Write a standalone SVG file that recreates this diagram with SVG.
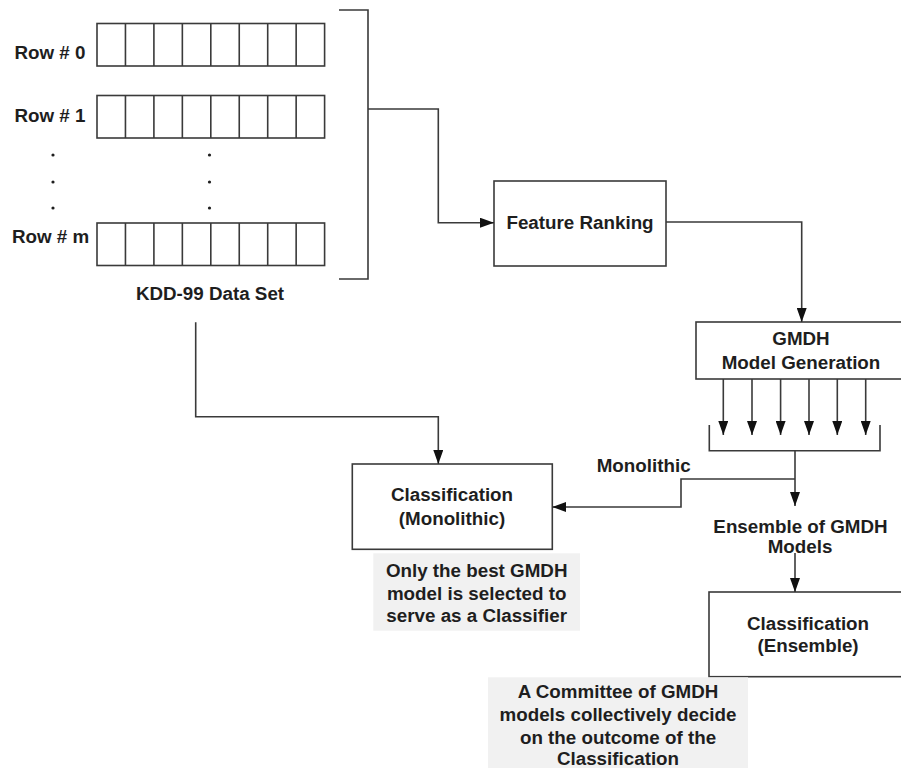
<svg xmlns="http://www.w3.org/2000/svg" width="901" height="768" viewBox="0 0 901 768">
<style>
.ln{fill:none;stroke:#3a3a3a;stroke-width:1.6}
.bx{fill:#ffffff;stroke:#3a3a3a;stroke-width:1.6}
.note{fill:#f1f1f1;stroke:none}
text{font-family:"Liberation Sans",Arial,sans-serif;font-weight:bold;font-size:18.8px;fill:#1e1e1e}
.c{text-anchor:middle}
.dot{fill:#1e1e1e}
</style>
<defs>
<marker id="ah" markerUnits="userSpaceOnUse" markerWidth="14" markerHeight="10" refX="14" refY="5" orient="auto">
<path d="M0,0 L14,5 L0,10 z" fill="#111"/>
</marker>
<g id="rowcells">
<rect class="bx" x="0" y="0" width="227.6" height="42.5"/>
<path class="ln" d="M28.45,0V42.5M56.9,0V42.5M85.35,0V42.5M113.8,0V42.5M142.25,0V42.5M170.7,0V42.5M199.15,0V42.5"/>
</g>
</defs>
<rect width="901" height="768" fill="#ffffff"/>

<g id="dataset">
<use href="#rowcells" x="97" y="23.5"/>
<use href="#rowcells" x="97" y="95.5"/>
<use href="#rowcells" x="97" y="223"/>
<text class="c" x="50" y="58.5">Row # 0</text>
<text class="c" x="50" y="122">Row # 1</text>
<text class="c" x="50.5" y="243">Row # m</text>
<circle class="dot" cx="53" cy="155" r="1.6"/>
<circle class="dot" cx="53" cy="182" r="1.6"/>
<circle class="dot" cx="53" cy="208" r="1.6"/>
<circle class="dot" cx="209.5" cy="155" r="1.6"/>
<circle class="dot" cx="209.5" cy="182" r="1.6"/>
<circle class="dot" cx="209.5" cy="208" r="1.6"/>
<path class="ln" d="M339,10H368V279H339"/>
<text class="c" x="210" y="299.5">KDD-99 Data Set</text>
</g>

<g id="feature-ranking">
<rect class="bx" x="494" y="181" width="172" height="85"/>
<text class="c" x="580" y="228.5">Feature Ranking</text>
</g>

<g id="gmdh">
<rect class="bx" x="696" y="322" width="212" height="57"/>
<text class="c" x="801" y="345">GMDH</text>
<text class="c" x="801" y="368.5">Model Generation</text>
</g>

<g id="tray">
<path class="ln" d="M709.3,425V450.7H880V425"/>
</g>

<g id="ensemble-label">
<text class="c" x="800.5" y="533.3">Ensemble of GMDH</text>
<text class="c" x="800" y="553.3">Models</text>
</g>

<g id="classification-monolithic">
<rect class="bx" x="352.3" y="464" width="200" height="85.3"/>
<text class="c" x="452" y="501">Classification</text>
<text class="c" x="452" y="524.5">(Monolithic)</text>
</g>

<g id="note-monolithic">
<rect class="note" x="373.3" y="553.3" width="206.7" height="77.4"/>
<text class="c" x="476.7" y="576.7">Only the best GMDH</text>
<text class="c" x="476.7" y="599.5">model is selected to</text>
<text class="c" x="476.7" y="622">serve as a Classifier</text>
</g>

<g id="classification-ensemble">
<rect class="bx" x="709" y="592" width="200" height="84.7"/>
<text class="c" x="808" y="630">Classification</text>
<text class="c" x="808" y="652">(Ensemble)</text>
</g>

<g id="note-ensemble">
<rect class="note" x="488" y="677.3" width="260" height="90.7"/>
<text class="c" x="618" y="698">A Committee of GMDH</text>
<text class="c" x="618" y="720.7">models collectively decide</text>
<text class="c" x="618" y="743.5">on the outcome of the</text>
<text class="c" x="618" y="765">Classification</text>
</g>

<g id="monolithic-label">
<text x="596.7" y="471.7">Monolithic</text>
</g>

<g id="connectors">
<path class="ln" d="M368,109H438.3V222.7H494" marker-end="url(#ah)"/>
<path class="ln" d="M666,222H801.7V322" marker-end="url(#ah)"/>
<path class="ln" d="M723.3,379V435" marker-end="url(#ah)"/>
<path class="ln" d="M752,379V435" marker-end="url(#ah)"/>
<path class="ln" d="M780.6,379V435" marker-end="url(#ah)"/>
<path class="ln" d="M809,379V435" marker-end="url(#ah)"/>
<path class="ln" d="M837.3,379V435" marker-end="url(#ah)"/>
<path class="ln" d="M865.7,379V435" marker-end="url(#ah)"/>
<path class="ln" d="M795,450.7V506" marker-end="url(#ah)"/>
<path class="ln" d="M795,479H681V507H552.3" marker-end="url(#ah)"/>
<path class="ln" d="M795,553V592" marker-end="url(#ah)"/>
<path class="ln" d="M195.7,322.3V416.7H438.3V464" marker-end="url(#ah)"/>
</g>
</svg>
